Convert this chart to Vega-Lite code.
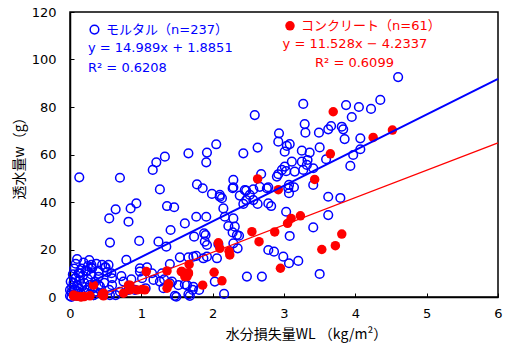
{
  "$schema": "https://vega.github.io/schema/vega-lite/v6.json",
  "width": 428,
  "height": 285,
  "autosize": "none",
  "padding": {"left": 70, "top": 12, "right": 7, "bottom": 47},
  "background": "white",
  "config": {"view": {"stroke": "black", "strokeWidth": 1.5}, "font": "DejaVu Sans"},
  "datasets": {
    "mortar": [
      {"x":4.60,"y":92.6},{"x":2.59,"y":76.6},{"x":3.27,"y":81.3},{"x":3.87,"y":80.8},{"x":4.05,"y":80},{"x":4.22,"y":79.2},{"x":4.35,"y":83},{"x":3.95,"y":75.8},{"x":3.81,"y":71.7},{"x":3.83,"y":70.6},{"x":3.85,"y":66.5},{"x":4.07,"y":66.8},{"x":4.07,"y":62.2},{"x":3.97,"y":59.8},{"x":3.93,"y":55.2},{"x":3.79,"y":41.7},{"x":3.29,"y":72.8},{"x":3.30,"y":69.2},{"x":3.49,"y":69.2},{"x":3.62,"y":70.6},{"x":3.66,"y":72},{"x":2.93,"y":68.9},{"x":2.92,"y":65.4},{"x":3.04,"y":63.6},{"x":3.08,"y":64.4},{"x":3.01,"y":61.2},{"x":3.25,"y":61.6},{"x":3.36,"y":60.8},{"x":3.50,"y":63},{"x":3.11,"y":57},{"x":3.25,"y":57},{"x":3.33,"y":57.7},{"x":3.32,"y":55.6},{"x":3.01,"y":54.9},{"x":2.97,"y":53.5},{"x":2.92,"y":51.7},{"x":3.15,"y":52.8},{"x":3.27,"y":53.5},{"x":3.41,"y":54.2},{"x":3.59,"y":58},{"x":2.90,"y":50.7},{"x":2.05,"y":64.3},{"x":1.92,"y":60.8},{"x":1.91,"y":56.7},{"x":2.43,"y":60.5},{"x":2.63,"y":62.9},{"x":3.03,"y":53},{"x":2.68,"y":51.8},{"x":2.29,"y":49.3},{"x":2.29,"y":46.2},{"x":1.86,"y":45.8},{"x":2.57,"y":45.3},{"x":2.45,"y":45},{"x":2.66,"y":46.4},{"x":2.78,"y":46.2},{"x":3.07,"y":47.2},{"x":3.14,"y":46.2},{"x":1.99,"y":43.4},{"x":2.10,"y":43},{"x":2.13,"y":41.6},{"x":2.38,"y":42.7},{"x":2.52,"y":43},{"x":2.47,"y":40.8},{"x":2.57,"y":40.8},{"x":2.43,"y":39.2},{"x":2.63,"y":39.2},{"x":2.78,"y":39.4},{"x":2.82,"y":38.3},{"x":2.15,"y":37.3},{"x":2.29,"y":33.1},{"x":2.22,"y":29.9},{"x":2.31,"y":29.6},{"x":2.34,"y":26.1},{"x":3.03,"y":35.9},{"x":3.08,"y":25.7},{"x":3.41,"y":29.3},{"x":3.62,"y":42.2},{"x":3.62,"y":34.5},{"x":1.91,"y":33.8},{"x":1.88,"y":26.8},{"x":1.89,"y":23.3},{"x":2.08,"y":22.3},{"x":2.29,"y":22.6},{"x":2.06,"y":16.3},{"x":1.92,"y":17},{"x":2.86,"y":19.1},{"x":2.99,"y":17},{"x":3.07,"y":14.2},{"x":3.20,"y":15.2},{"x":2.48,"y":8.6},{"x":2.69,"y":8.6},{"x":3.50,"y":9.7},{"x":2.03,"y":6.5},{"x":2.16,"y":1.3},{"x":1.33,"y":59.1},{"x":1.66,"y":60.5},{"x":1.26,"y":45.3},{"x":1.78,"y":47.4},{"x":2.10,"y":42.2},{"x":2.28,"y":45.8},{"x":2.47,"y":44.8},{"x":1.36,"y":38.3},{"x":1.46,"y":37.8},{"x":1.77,"y":33.8},{"x":2.17,"y":33.8},{"x":0.13,"y":50.4},{"x":0.70,"y":50.2},{"x":1.21,"y":56.7},{"x":1.16,"y":53.5},{"x":0.93,"y":39.4},{"x":0.85,"y":37.3},{"x":0.64,"y":36.9},{"x":0.55,"y":33.1},{"x":0.82,"y":31.7},{"x":1.61,"y":31},{"x":1.41,"y":28.2},{"x":0.56,"y":22.9},{"x":0.97,"y":23.6},{"x":1.24,"y":23.3},{"x":1.35,"y":21.2},{"x":1.74,"y":25.4},{"x":1.90,"y":26.1},{"x":1.92,"y":21.9},{"x":0.79,"y":15.6},{"x":0.30,"y":13.5},{"x":0.49,"y":12.5},{"x":0.54,"y":13.5},{"x":0.98,"y":12.1},{"x":1.08,"y":12.5},{"x":1.40,"y":13.9},{"x":1.54,"y":16.7},{"x":1.66,"y":16.7},{"x":1.77,"y":17.3},{"x":0.58,"y":10},{"x":0.72,"y":8.8},{"x":0.86,"y":7.4},{"x":0.98,"y":10.7},{"x":1.17,"y":7.2},{"x":1.26,"y":6.5},{"x":1.32,"y":7.4},{"x":1.40,"y":5.8},{"x":1.52,"y":5},{"x":1.64,"y":5},{"x":1.72,"y":3},{"x":1.81,"y":3},{"x":1.49,"y":0.1},{"x":1.66,"y":1.1},{"x":1.31,"y":3.7},{"x":0.91,"y":3},{"x":0.70,"y":2.2},{"x":0.56,"y":0.8},{"x":0.33,"y":0.8},{"x":2.28,"y":27.2},{"x":2.37,"y":25.8},{"x":2.35,"y":20.5},{"x":1.73,"y":17},{"x":1.87,"y":16.3},{"x":1.29,"y":10},{"x":1.43,"y":6.5},{"x":1.61,"y":5.3},{"x":1.73,"y":4.3},{"x":1.47,"y":0.5},{"x":1.68,"y":0.5},{"x":2.78,"y":19.8},{"x":2.76,"y":45.8},{"x":3.06,"y":45.8},{"x":3.07,"y":43.7},{"x":3.41,"y":47.2},{"x":0.31,"y":12.1},{"x":0.24,"y":11},{"x":0.14,"y":10},{"x":0.07,"y":7.9},{"x":0.59,"y":7.9},{"x":0.59,"y":5},{"x":0.75,"y":6.5},{"x":1.01,"y":7.9},{"x":1.15,"y":10},{"x":1.06,"y":3.7},{"x":0.82,"y":3},{"x":0.40,"y":5},{"x":0.35,"y":2.2},{"x":0.64,"y":0.8},
      {"x":0.0,"y":0.5},{"x":0.02,"y":2},{"x":0.03,"y":4},{"x":0.05,"y":1},{"x":0.05,"y":6},{"x":0.07,"y":3},{"x":0.08,"y":8},{"x":0.1,"y":0.5},{"x":0.1,"y":2.5},{"x":0.1,"y":5},{"x":0.12,"y":10},{"x":0.13,"y":3.5},{"x":0.14,"y":7},{"x":0.15,"y":1.5},{"x":0.16,"y":12},{"x":0.17,"y":4.5},{"x":0.18,"y":9},{"x":0.2,"y":2},{"x":0.2,"y":6},{"x":0.22,"y":11},{"x":0.23,"y":3},{"x":0.25,"y":7.5},{"x":0.25,"y":13},{"x":0.27,"y":1},{"x":0.28,"y":5},{"x":0.3,"y":9.5},{"x":0.3,"y":12.5},{"x":0.32,"y":3.5},{"x":0.33,"y":0.8},{"x":0.35,"y":6.5},{"x":0.37,"y":14},{"x":0.38,"y":2},{"x":0.4,"y":8.5},{"x":0.4,"y":11},{"x":0.42,"y":4.5},{"x":0.45,"y":1.5},{"x":0.45,"y":13.5},{"x":0.48,"y":6},{"x":0.5,"y":12.5},{"x":0.52,"y":10.5},{"x":0.55,"y":3},{"x":0.0,"y":3},{"x":0.01,"y":6.5},{"x":0.04,"y":9.5},{"x":0.06,"y":12},{"x":0.08,"y":14},{"x":0.02,"y":0},{"x":0.1,"y":16},{"x":0.19,"y":14.5},{"x":0.27,"y":15.5}
    ],
    "concrete": [
      {"x":3.69,"y":78},{"x":3.65,"y":60.3},{"x":4.25,"y":67.2},{"x":4.52,"y":70.3},{"x":3.81,"y":26.5},{"x":3.43,"y":49.5},{"x":2.63,"y":49.7},{"x":2.92,"y":45.2},{"x":2.55,"y":27.5},{"x":2.87,"y":27.4},{"x":2.65,"y":23.3},{"x":3.05,"y":31},{"x":3.10,"y":33.1},{"x":3.23,"y":34.2},{"x":3.72,"y":21.6},{"x":3.53,"y":20},{"x":2.95,"y":12.1},{"x":2.08,"y":22.8},{"x":2.10,"y":20.5},{"x":2.23,"y":19.3},{"x":2.24,"y":17.7},{"x":2.02,"y":10.4},{"x":2.13,"y":6.8},{"x":1.86,"y":5},{"x":1.67,"y":13.7},{"x":1.36,"y":11},{"x":1.57,"y":10.7},{"x":1.66,"y":9.8},{"x":1.64,"y":8.6},{"x":1.38,"y":5.5},{"x":1.36,"y":3.7},{"x":1.07,"y":10.7},{"x":0.84,"y":5},{"x":0.75,"y":1.6},{"x":0.84,"y":3},{"x":0.94,"y":3},{"x":1.05,"y":3},{"x":0.33,"y":5},{"x":0.47,"y":1.6},{"x":0.47,"y":0.5},{"x":0.05,"y":0.4},{"x":0.16,"y":0},{"x":0.05,"y":0.8},{"x":0.14,"y":0.1},{"x":0.82,"y":5},{"x":1.01,"y":3.2},{"x":1.61,"y":8.6},{"x":1.38,"y":5.3},{"x":1.66,"y":10.2},{"x":1.56,"y":10.7},{"x":0.28,"y":0.5},{"x":0.1,"y":0.3},{"x":0.2,"y":0.2},{"x":0.45,"y":1.0}
    ],
    "fitMortar": [{"x":0.3,"y":6.38},{"x":6,"y":91.82}],
    "fitConcrete": [{"x":0.367,"y":0},{"x":6,"y":64.93}],
    "keyMortar": [{"x":0.343,"y":112.6}],
    "keyConcrete": [{"x":3.084,"y":114.2}],
    "textMortar": [
      {"x":0.505,"y":112.6,"text":"モルタル（n=237）"},
      {"x":0.252,"y":104.7,"text":"y = 14.989x + 1.8851"},
      {"x":0.252,"y":96.3,"text":"R² = 0.6208"}
    ],
    "textConcrete": [
      {"x":3.24,"y":114.2,"text":"コンクリート（n=61）"},
      {"x":2.98,"y":106.4,"text":"y = 11.528x − 4.2337"},
      {"x":3.435,"y":98.4,"text":"R² = 0.6099"}
    ]
  },
  "layer": [
    {
      "data": {"name": "mortar"},
      "mark": {"type": "point", "shape": "circle", "filled": false, "stroke": "#0000FF", "strokeWidth": 1.5, "size": 75, "opacity": 1},
      "encoding": {
        "x": {"field": "x", "type": "quantitative", "scale": {"domain": [0, 6], "nice": false},
          "axis": {"values": [0,0.5,1,1.5,2,2.5,3,3.5,4,4.5,5,5.5,6], "labelExpr": "datum.value % 1 === 0 ? format(datum.value, 'd') : ''", "labelOverlap": false, "labelFlush": false, "grid": false, "tickSize": -4, "tickColor": "black", "domainColor": "black", "domainWidth": 1.5, "labelFont": "DejaVu Sans", "labelFontSize": 13, "labelColor": "black", "labelPadding": 14, "title": "水分損失量WL （kg/m²）", "titleFont": "Noto Sans CJK JP", "titleFontSize": 14, "titleFontWeight": "normal", "titleColor": "black", "titlePadding": 7, "titleX": 236}},
        "y": {"field": "y", "type": "quantitative", "scale": {"domain": [0, 120], "nice": false},
          "axis": {"values": [0,10,20,30,40,50,60,70,80,90,100,110,120], "labelOverlap": false, "labelFlush": false, "grid": false, "tickSize": -4, "tickColor": "black", "domainColor": "black", "domainWidth": 1.5, "labelFont": "DejaVu Sans", "labelFontSize": 13, "labelColor": "black", "labelPadding": 18, "title": "透水量w（g）", "titleFont": "Noto Sans CJK JP", "titleFontSize": 14, "titleFontWeight": "normal", "titleColor": "black", "titlePadding": 5}}
      }
    },
    {
      "data": {"name": "concrete"},
      "mark": {"type": "circle", "color": "#FF0000", "size": 90, "opacity": 1},
      "encoding": {"x": {"field": "x", "type": "quantitative"}, "y": {"field": "y", "type": "quantitative"}}
    },
    {
      "data": {"name": "fitMortar"},
      "mark": {"type": "line", "color": "#0000FF", "strokeWidth": 2},
      "encoding": {"x": {"field": "x", "type": "quantitative"}, "y": {"field": "y", "type": "quantitative"}}
    },
    {
      "data": {"name": "fitConcrete"},
      "mark": {"type": "line", "color": "#FF0000", "strokeWidth": 1.3},
      "encoding": {"x": {"field": "x", "type": "quantitative"}, "y": {"field": "y", "type": "quantitative"}}
    },
    {
      "data": {"name": "keyMortar"},
      "mark": {"type": "point", "shape": "circle", "filled": false, "stroke": "#0000FF", "strokeWidth": 1.5, "size": 75, "opacity": 1},
      "encoding": {"x": {"field": "x", "type": "quantitative"}, "y": {"field": "y", "type": "quantitative"}}
    },
    {
      "data": {"name": "keyConcrete"},
      "mark": {"type": "circle", "color": "#FF0000", "size": 90, "opacity": 1},
      "encoding": {"x": {"field": "x", "type": "quantitative"}, "y": {"field": "y", "type": "quantitative"}}
    },
    {
      "data": {"name": "textMortar"},
      "mark": {"type": "text", "align": "left", "baseline": "middle", "color": "#0000FF", "font": "DejaVu Sans, Noto Sans CJK JP", "fontSize": 13},
      "encoding": {"x": {"field": "x", "type": "quantitative"}, "y": {"field": "y", "type": "quantitative"}, "text": {"field": "text"}}
    },
    {
      "data": {"name": "textConcrete"},
      "mark": {"type": "text", "align": "left", "baseline": "middle", "color": "#FF0000", "font": "DejaVu Sans, Noto Sans CJK JP", "fontSize": 13},
      "encoding": {"x": {"field": "x", "type": "quantitative"}, "y": {"field": "y", "type": "quantitative"}, "text": {"field": "text"}}
    }
  ]
}
